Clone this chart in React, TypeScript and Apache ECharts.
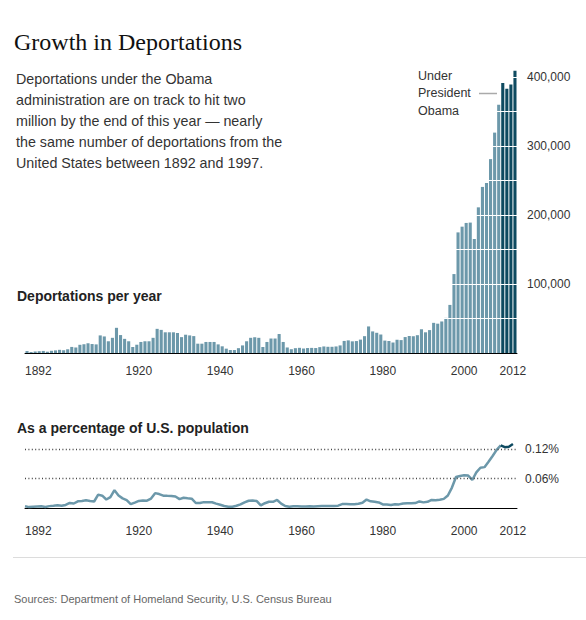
import React, { useEffect, useRef } from 'react';
import * as echarts from 'echarts';

const years: number[] = Array.from({ length: 121 }, (_, i) => 1892 + i);

// Deportations per year, 1892–2012
const deportations = [
  2800, 1600, 2200, 2600, 3000, 1900, 3200, 3800, 4600, 3900,
  5400, 8800, 8000, 11900, 12700, 14100, 13000, 12500, 25500, 24000,
  17000, 22000, 36500, 26000, 20500, 17000, 8700, 12000, 16000, 17000,
  17000, 22000, 35000, 33500, 30000, 30000, 30000, 29000, 23000, 26500,
  25500, 24500, 13500, 13500, 16000, 16000, 16000, 12500, 9700, 6300,
  4300, 4300, 7000, 11000, 17000, 22000, 23000, 22000, 8700, 16000,
  21000, 21000, 27500, 16000, 8000, 5500, 7000, 7500, 6500, 7200,
  7400, 7200, 8500, 9500, 9000, 9000, 9500, 11000, 17500, 18300,
  16900, 17300, 19400, 24400, 38500, 31300, 29300, 26800, 18000, 17400,
  15200, 19200, 18700, 23100, 24600, 24300, 25800, 34400, 30000, 33200,
  43700, 42500, 45700, 50900, 69700, 114400, 174800, 183100, 188500, 189000,
  165200, 211100, 240700, 246400, 281000, 319400, 359800, 391300, 383000, 389000,
  409000,
];

// Deportations as a percentage of U.S. population, 1892–2012
const pctOfPopulation = [
  0.0043, 0.0024, 0.0032, 0.0037, 0.0042, 0.0026, 0.0044, 0.0051, 0.0060, 0.0050,
  0.0068, 0.0109, 0.0097, 0.0142, 0.0149, 0.0162, 0.0147, 0.0138, 0.0277, 0.0256,
  0.0178, 0.0226, 0.0368, 0.0259, 0.0201, 0.0165, 0.0084, 0.0115, 0.0150, 0.0157,
  0.0155, 0.0197, 0.0307, 0.0289, 0.0256, 0.0252, 0.0249, 0.0238, 0.0187, 0.0214,
  0.0204, 0.0195, 0.0107, 0.0106, 0.0125, 0.0124, 0.0123, 0.0095, 0.0073, 0.0047,
  0.0032, 0.0031, 0.0051, 0.0079, 0.0120, 0.0153, 0.0157, 0.0147, 0.0058, 0.0103,
  0.0133, 0.0131, 0.0169, 0.0096, 0.0047, 0.0032, 0.0040, 0.0042, 0.0036, 0.0039,
  0.0040, 0.0038, 0.0044, 0.0049, 0.0046, 0.0045, 0.0047, 0.0054, 0.0085, 0.0088,
  0.0081, 0.0082, 0.0091, 0.0113, 0.0177, 0.0142, 0.0132, 0.0119, 0.0079, 0.0076,
  0.0066, 0.0082, 0.0079, 0.0097, 0.0102, 0.0100, 0.0106, 0.0139, 0.0120, 0.0131,
  0.0170, 0.0164, 0.0174, 0.0191, 0.0259, 0.0420, 0.0634, 0.0656, 0.0668, 0.0663,
  0.0574, 0.0728, 0.0822, 0.0834, 0.0942, 0.1060, 0.1183, 0.1275, 0.1238, 0.1248,
  0.1303,
];

const xLabelYears = [1892, 1920, 1940, 1960, 1980, 2000, 2012];
const barAxisLabelValues = [100000, 200000, 300000, 400000];
const barGuideValues = [50000, 100000, 150000, 200000, 250000, 300000, 350000, 400000];
const pctGuideValues = [0.06, 0.12];
const obamaStartYear = 2009;

const LIGHT = '#6c98aa';
const DARK = '#0e4a60';
const SANS = '"Liberation Sans", Arial, sans-serif';
const SERIF = '"Liberation Serif", Georgia, serif';

export default function App() {
  const ref = useRef<HTMLDivElement>(null);

  useEffect(() => {
    if (!ref.current) return;
    const chart = echarts.init(ref.current, null, { renderer: 'svg' });

    const labelAxis = (gridIndex: number, margin: number, showLine: boolean) => ({
      type: 'value',
      gridIndex,
      position: 'bottom',
      min: 1892,
      max: 2013,
      axisLine: { show: showLine, onZero: false, lineStyle: { color: '#000', width: 1 } },
      axisTick: { show: false },
      splitLine: { show: false },
      axisLabel: {
        customValues: xLabelYears,
        formatter: (v: number) => String(v),
        alignMinLabel: 'left',
        margin,
        fontSize: 12,
        color: '#333',
        fontFamily: SANS,
      },
    });

    const lightLine = years
      .map((y, i) => [y, pctOfPopulation[i]])
      .filter((d) => d[0] <= obamaStartYear);
    const darkLine = years
      .map((y, i) => [y, pctOfPopulation[i]])
      .filter((d) => d[0] >= obamaStartYear);

    chart.setOption({
      animation: false,
      backgroundColor: '#fff',
      grid: [
        { left: 25, top: 63.2, width: 492, height: 289.8 },
        { left: 25, top: 439.2, width: 492, height: 69.1 },
      ],
      xAxis: [
        {
          type: 'category',
          gridIndex: 0,
          position: 'bottom',
          data: years,
          boundaryGap: true,
          axisLine: { show: true, lineStyle: { color: '#000', width: 1 } },
          axisTick: { show: false },
          axisLabel: { show: false },
          splitLine: { show: false },
        },
        labelAxis(0, 12, false),
        labelAxis(1, 17, true),
      ],
      yAxis: [
        {
          type: 'value',
          gridIndex: 0,
          position: 'right',
          min: 0,
          max: 420000,
          interval: 100000,
          axisLine: { show: false },
          axisTick: { show: false },
          splitLine: { show: false },
          axisLabel: {
            customValues: barAxisLabelValues,
            formatter: (v: number) => v.toLocaleString('en-US'),
            margin: 10,
            fontSize: 12,
            color: '#333',
            fontFamily: SANS,
          },
        },
        {
          type: 'value',
          gridIndex: 1,
          min: 0,
          max: 0.14,
          axisLine: { show: false },
          axisTick: { show: false },
          splitLine: { show: false },
          axisLabel: { show: false },
        },
      ],
      series: [
        {
          type: 'bar',
          xAxisIndex: 0,
          yAxisIndex: 0,
          barCategoryGap: '24%',
          data: deportations.map((v, i) => ({
            value: v,
            itemStyle: { color: years[i] >= obamaStartYear ? DARK : LIGHT },
          })),
          markLine: {
            silent: true,
            symbol: ['none', 'none'],
            label: { show: false },
            lineStyle: { color: '#fff', width: 1, type: 'solid' },
            emphasis: { disabled: true },
            data: barGuideValues.map((v) => ({ yAxis: v })),
          },
        },
        {
          type: 'line',
          xAxisIndex: 2,
          yAxisIndex: 1,
          data: lightLine,
          symbol: 'none',
          lineStyle: { color: LIGHT, width: 2.5 },
          markLine: {
            silent: true,
            symbol: ['none', 'none'],
            lineStyle: { color: '#444', width: 1.3, type: [1, 2.4] },
            label: {
              show: true,
              position: 'end',
              distance: 8,
              formatter: (p: any) => `${p.value}%`,
              fontSize: 12,
              color: '#333',
              fontFamily: SANS,
            },
            emphasis: { disabled: true },
            data: pctGuideValues.map((v) => ({ yAxis: v })),
          },
        },
        {
          type: 'line',
          xAxisIndex: 2,
          yAxisIndex: 1,
          data: darkLine,
          symbol: 'none',
          lineStyle: { color: DARK, width: 2.5 },
        },
      ],
      graphic: [
        {
          type: 'text',
          z: 100,
          x: 14,
          y: 41.5,
          style: {
            text: 'Growth in Deportations',
            fontFamily: SERIF,
            fontSize: 24,
            fill: '#111',
            verticalAlign: 'middle',
          },
        },
        {
          type: 'text',
          z: 100,
          x: 16,
          y: 69,
          style: {
            text:
              'Deportations under the Obama\nadministration are on track to hit two\nmillion by the end of this year \u2014 nearly\nthe same number of deportations from the\nUnited States between 1892 and 1997.',
            fontFamily: SANS,
            fontSize: 14.3,
            lineHeight: 20.8,
            fill: '#333',
            verticalAlign: 'top',
          },
        },
        {
          type: 'text',
          z: 100,
          x: 418,
          y: 66.8,
          style: {
            text: 'Under\nPresident\nObama',
            fontFamily: SANS,
            fontSize: 12.5,
            lineHeight: 17.5,
            fill: '#333',
            verticalAlign: 'top',
          },
        },
        {
          type: 'line',
          z: 100,
          shape: { x1: 479, y1: 93.5, x2: 497, y2: 93.5 },
          style: { stroke: '#aaa', lineWidth: 1.5 },
        },
        {
          type: 'text',
          z: 100,
          x: 17,
          y: 296,
          style: {
            text: 'Deportations per year',
            fontFamily: SANS,
            fontSize: 14,
            fontWeight: 'bold',
            fill: '#222',
            verticalAlign: 'middle',
          },
        },
        {
          type: 'text',
          z: 100,
          x: 17,
          y: 427.5,
          style: {
            text: 'As a percentage of U.S. population',
            fontFamily: SANS,
            fontSize: 14,
            fontWeight: 'bold',
            fill: '#222',
            verticalAlign: 'middle',
          },
        },
        {
          type: 'line',
          z: 100,
          shape: { x1: 13, y1: 557.5, x2: 586, y2: 557.5 },
          style: { stroke: '#dcdcdc', lineWidth: 1 },
        },
        {
          type: 'text',
          z: 100,
          x: 14,
          y: 599,
          style: {
            text: 'Sources: Department of Homeland Security, U.S. Census Bureau',
            fontFamily: SANS,
            fontSize: 11,
            fill: '#666',
            verticalAlign: 'middle',
          },
        },
      ],
    });

    return () => chart.dispose();
  }, []);

  return (
    <div
      ref={ref}
      style={{ position: 'absolute', left: 0, top: 0, width: 586, height: 620, background: '#fff' }}
    />
  );
}
